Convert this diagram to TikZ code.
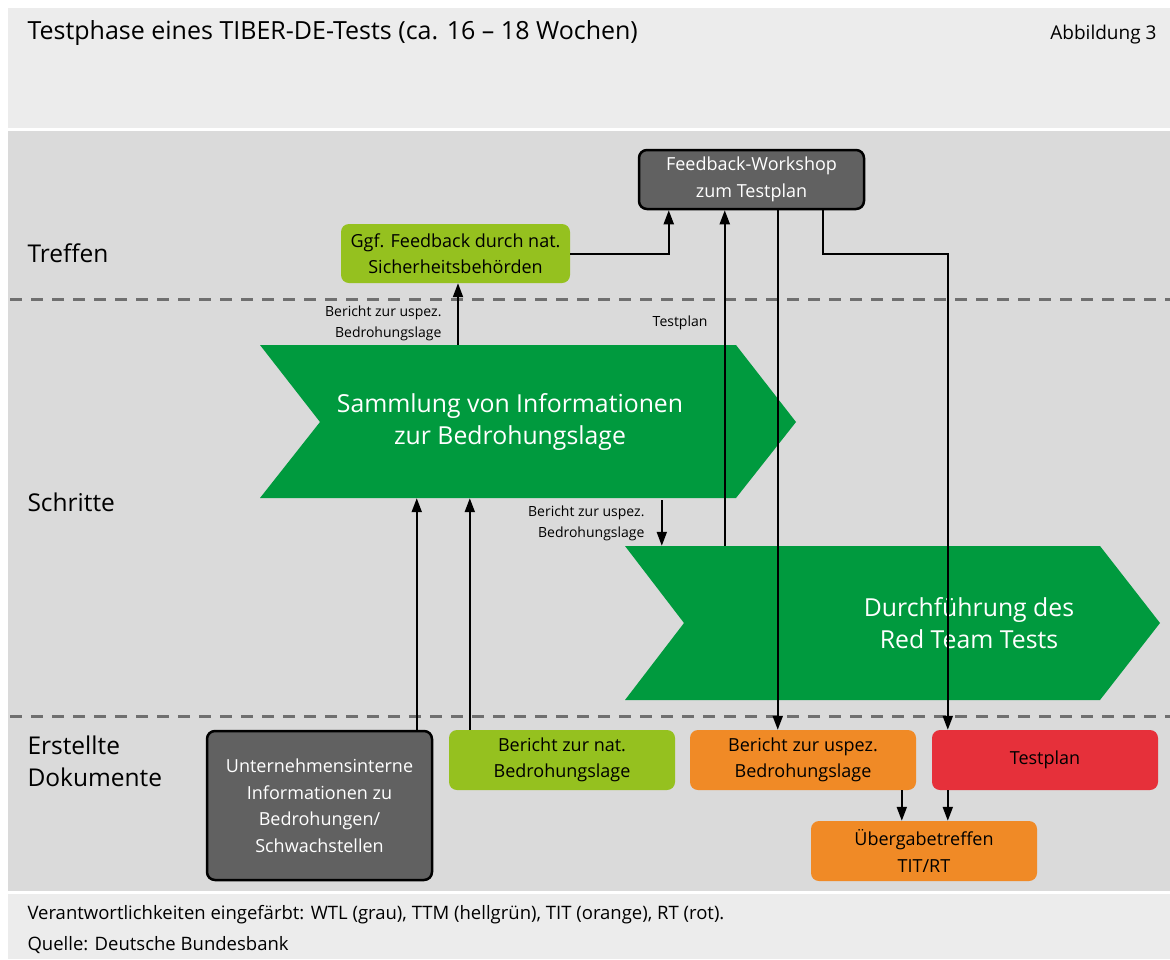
\documentclass[tikz,border=0pt]{standalone}
\usepackage{fontspec}
\setmainfont{Open Sans}
\usetikzlibrary{arrows.meta}
\definecolor{bgmain}{HTML}{DADADA}
\definecolor{bghead}{HTML}{ECECEC}
\definecolor{dgray}{HTML}{616161}
\definecolor{chev}{HTML}{009A3E}
\definecolor{lgreen}{HTML}{95C11F}
\definecolor{orng}{HTML}{F08A26}
\definecolor{rd}{HTML}{E6303A}
\definecolor{sepgray}{HTML}{6F6F6F}
\tikzset{
  box/.style={rounded corners=8pt, inner sep=0pt, align=center, font=\fontsize{18}{26.5}\selectfont},
  wtl/.style={box, fill=dgray, draw=black, line width=2.5pt, text=white},
  ttm/.style={box, fill=lgreen, text=black},
  tit/.style={box, fill=orng, text=black},
  rt/.style={box, fill=rd, text=black},
  arr/.style={line width=2pt, -{Triangle[width=10pt,length=14pt]}},
  sepline/.style={draw=sepgray, line width=3pt, dash pattern=on 12pt off 9pt},
  lane/.style={anchor=west, font=\fontsize{24.5}{32}\selectfont, align=left},
  small/.style={font=\fontsize{14}{21}\selectfont, align=right},
  chevtext/.style={text=white, align=center, font=\fontsize{24.8}{31.5}\selectfont},
  foot/.style={anchor=west, font=\fontsize{18.5}{22}\selectfont},
}
\begin{document}
\begin{tikzpicture}[x=1pt, y=-1pt]
\useasboundingbox (0,0) rectangle (1170,959);
\fill[white] (0,0) rectangle (1170,959);
% panels
\fill[bghead] (8,8) rectangle (1170,128);
\fill[bgmain] (8,131) rectangle (1170,891);
\fill[bghead] (8,894) rectangle (1170,959);
% header
\node[anchor=west, font=\fontsize{25}{30}\selectfont] (title) at (24,33) {Testphase eines TIBER-DE-Tests (ca. 16 -- 18 Wochen)};
\node[anchor=east, font=\fontsize{19}{22}\selectfont] (abb) at (1160,35) {Abbildung 3};
% separators
\draw[sepline] (10,299) -- (1170,299);
\draw[sepline] (10,716) -- (1170,716);
% lanes
\node[lane] (l1) at (24,253) {Treffen};
\node[lane] (l2) at (24,502) {Schritte};
\node[lane] (l3) at (24,761) {Erstellte\\Dokumente};
% chevrons
\fill[chev] (260,345) -- (736,345) -- (796,422) -- (736,498) -- (260,498) -- (320,422) -- cycle;
\fill[chev] (625,546) -- (1100,546) -- (1160,623) -- (1100,700) -- (625,700) -- (684,623) -- cycle;
\node[minimum width=536pt, minimum height=153pt, inner sep=0pt] (samm) at (528,421.5) {};
\node[minimum width=535pt, minimum height=154pt, inner sep=0pt] (durch) at (892.5,623) {};
\node[chevtext] (sammt) at (510,422) {Sammlung von Informationen\\zur Bedrohungslage};
\node[chevtext] (durcht) at (969,623) {Durchführung des\\Red Team Tests};
% boxes
\node[wtl, minimum width=225pt, minimum height=59pt] (ws) at (751.5,179.5) {Feedback-Workshop\\zum Testplan};
\node[ttm, minimum width=229pt, minimum height=59pt] (ggf) at (455.5,253.5) {Ggf. Feedback durch nat.\\Sicherheitsbehörden};
\node[wtl, minimum width=225pt, minimum height=149pt] (uni) at (319.5,805.5) {Unternehmensinterne\\Informationen zu\\Bedrohungen/\\Schwachstellen};
\node[ttm, minimum width=226pt, minimum height=60pt] (bn) at (562,760) {Bericht zur nat.\\Bedrohungslage};
\node[tit, minimum width=226pt, minimum height=60pt] (bu) at (803,760) {Bericht zur uspez.\\Bedrohungslage};
\node[rt, minimum width=226pt, minimum height=60pt] (tp) at (1045,760) {Testplan};
\node[tit, minimum width=226pt, minimum height=60pt] (ub) at (924,851) {Übergabetreffen\\TIT/RT};
% connectors
\coordinate (wsA) at ([xshift=31pt]ws.south west);
\coordinate (wsB) at ([xshift=87pt]ws.south west);
\coordinate (wsC) at ([xshift=140pt]ws.south west);
\coordinate (wsD) at ([xshift=185pt]ws.south west);
\draw[arr] ([xshift=2.5pt]ggf.south |- samm.north) -- ([xshift=2.5pt]ggf.south);
\draw[arr] (ggf.east) -| (wsA);
\draw[arr] (wsB |- durch.north) -- (wsB);
\draw[arr] (wsC) -- (wsC |- bu.north);
\coordinate (bend) at ([yshift=-44pt]wsD);
\coordinate (tpA) at ([xshift=16pt]tp.north west);
\draw[arr] (wsD) -- (bend) -| (tpA);
\coordinate (uniA) at ([xshift=211pt]uni.north west);
\draw[arr] (uniA) -- (uniA |- samm.south);
\coordinate (bnA) at ([xshift=21pt]bn.north west);
\draw[arr] (bnA) -- (bnA |- samm.south);
\coordinate (sA) at ([xshift=402pt,yshift=-2pt]samm.south west);
\draw[arr] (sA) -- (sA |- durch.north);
\coordinate (buA) at ([xshift=212pt]bu.south west);
\draw[arr] (buA) -- (buA |- ub.north);
\coordinate (tpB) at ([xshift=16pt]tp.south west);
\draw[arr] (tpB) -- (tpB |- ub.north);
% small labels
\node[small, anchor=east] (lab1) at (445,323) {Bericht zur uspez.\\Bedrohungslage};
\node[small, anchor=east] (lab2) at (711,323) {Testplan};
\node[small, anchor=east] (lab3) at (648,523) {Bericht zur uspez.\\Bedrohungslage};
% footer
\node[foot] (f1) at (24,915) {Verantwortlichkeiten eingefärbt: WTL (grau), TTM (hellgrün), TIT (orange), RT (rot).};
\node[foot] (f2) at (24,945) {Quelle: Deutsche Bundesbank};
\end{tikzpicture}
\end{document}
